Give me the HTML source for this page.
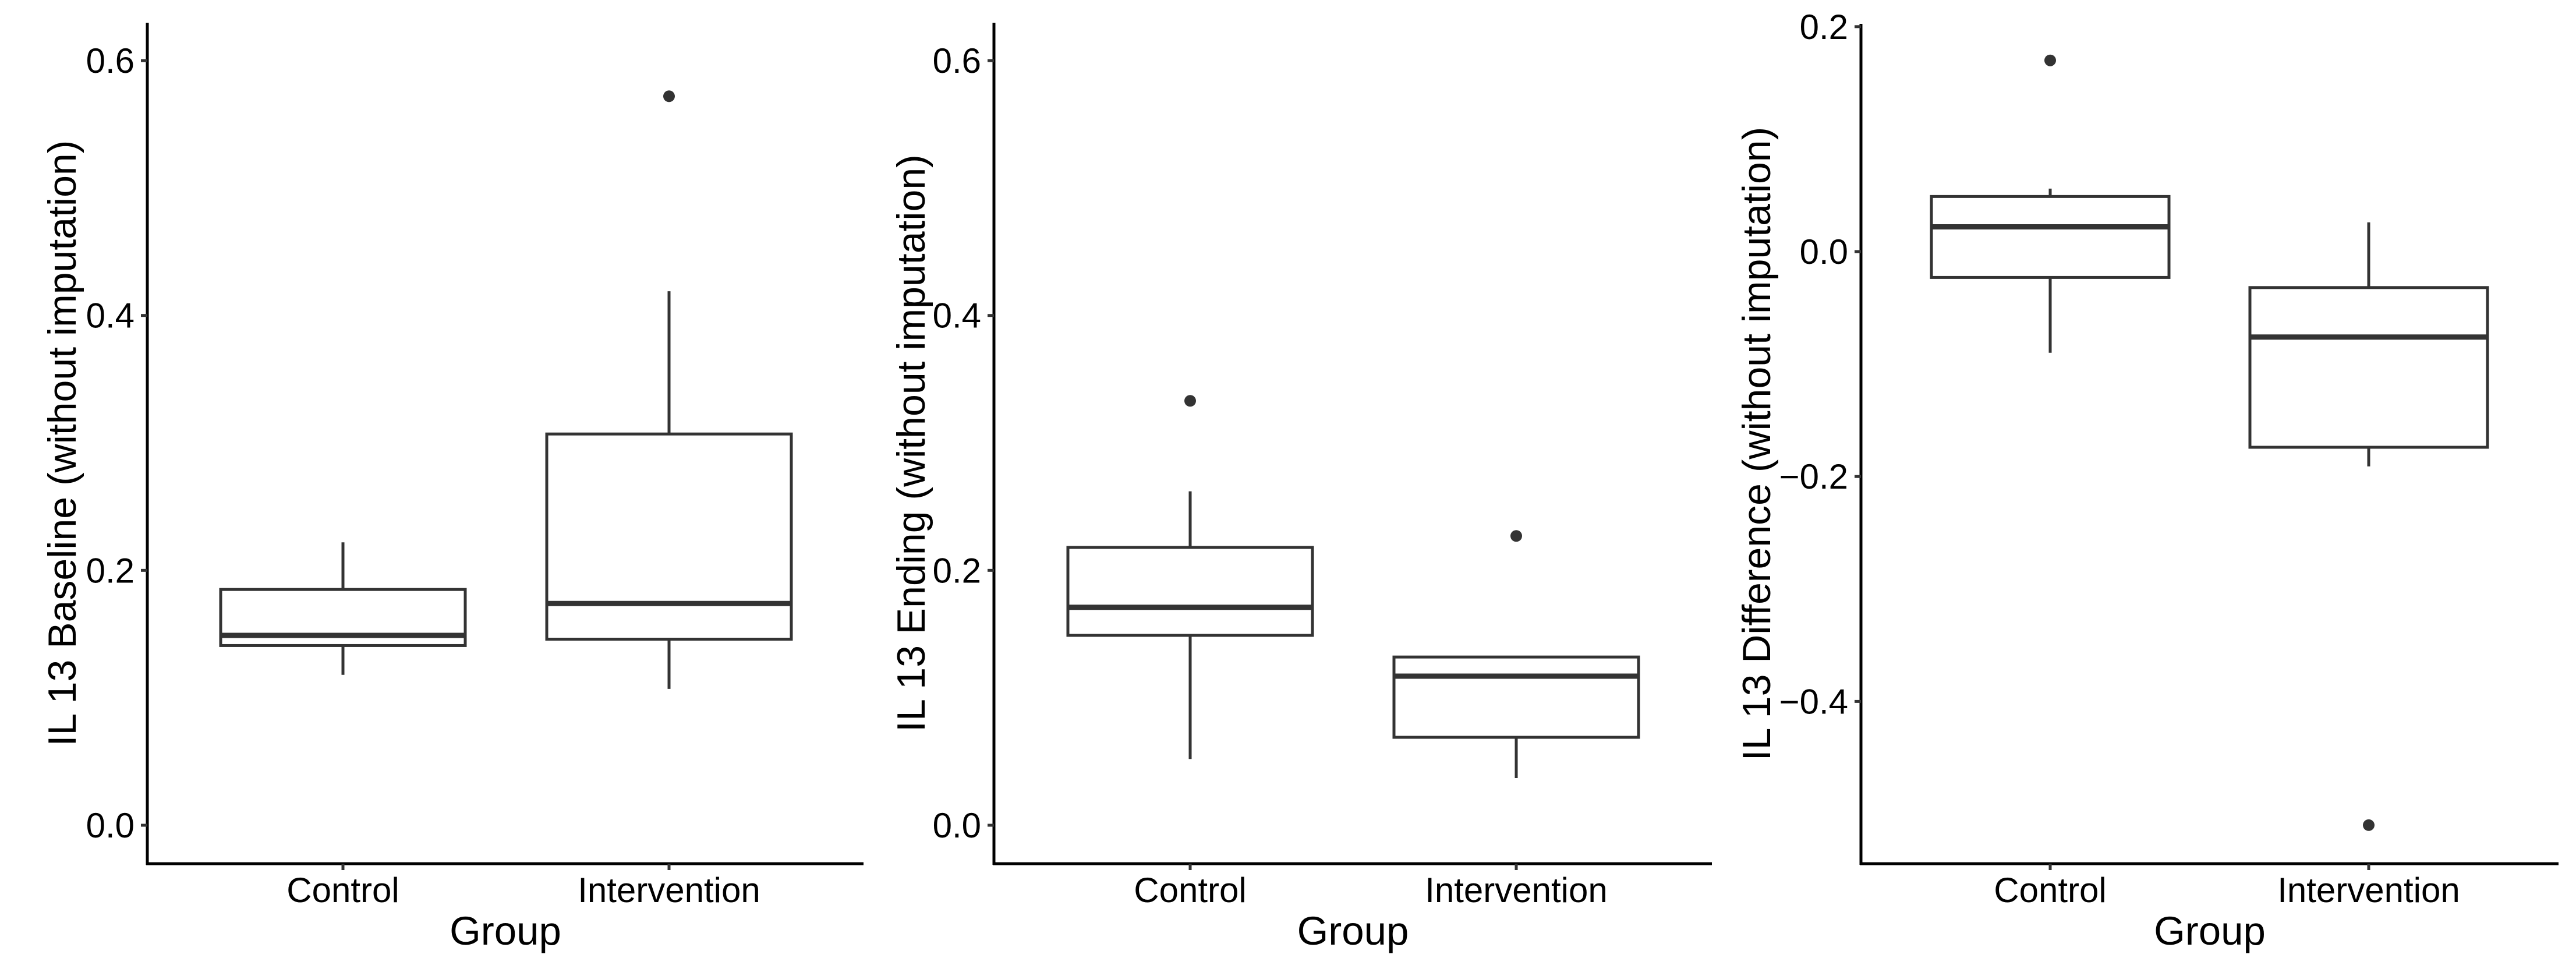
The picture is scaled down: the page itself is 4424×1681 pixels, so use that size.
<!DOCTYPE html>
<html><head><meta charset="utf-8"><style>
html,body{margin:0;padding:0;background:#fff}
svg{display:block;font-family:"Liberation Sans",Arial,sans-serif}
</style></head><body>
<svg id="fig" width="4424" height="1681" viewBox="0 0 4424 1681" xmlns="http://www.w3.org/2000/svg"></svg>
<script>
const categories = ["Control", "Intervention"];
// panel 1: baseline  [low whisker, Q1, median, Q3, high whisker]
const baselineStats = [[0.118, 0.141, 0.149, 0.185, 0.222], [0.107, 0.146, 0.174, 0.307, 0.419]];
const baselineOutliers = [[], [0.572]];
// panel 2: ending
const endingStats = [[0.052, 0.149, 0.171, 0.218, 0.262], [0.037, 0.069, 0.117, 0.132, 0.132]];
const endingOutliers = [[0.333], [0.227]];
// panel 3: difference
const diffStats = [[-0.090, -0.023, 0.022, 0.049, 0.056], [-0.191, -0.174, -0.076, -0.032, 0.026]];
const diffOutliers = [[0.170], [-0.510]];
const ticks12 = [0.0, 0.2, 0.4, 0.6];
const tickLabels12 = ["0.0", "0.2", "0.4", "0.6"];
const ticks3 = [-0.4, -0.2, 0.0, 0.2];
const tickLabels3 = ["\u22120.4", "\u22120.2", "0.0", "0.2"];

const NS = "http://www.w3.org/2000/svg";
const svg = document.getElementById("fig");
function mk(tag, attrs, parent, text) {
  const e = document.createElementNS(NS, tag);
  for (const k in attrs) e.setAttribute(k, attrs[k]);
  if (text !== undefined) e.textContent = text;
  (parent || svg).appendChild(e);
  return e;
}

const panels = [
  {id: "baseline", title: "IL 13 Baseline (without imputation)", stats: baselineStats, outs: baselineOutliers,
   ticks: ticks12, labels: tickLabels12, axX: 253, axR: 1483, top: 39, bottom: 1483, y0: 1417, k: 2188.3,
   cx: [589, 1149], bw: 420, titleX: 106},
  {id: "ending", title: "IL 13 Ending (without imputation)", stats: endingStats, outs: endingOutliers,
   ticks: ticks12, labels: tickLabels12, axX: 1707, axR: 2940, top: 39, bottom: 1483, y0: 1417, k: 2188.3,
   cx: [2044, 2604], bw: 420, titleX: 1564},
  {id: "difference", title: "IL 13 Difference (without imputation)", stats: diffStats, outs: diffOutliers,
   ticks: ticks3, labels: tickLabels3, axX: 3196, axR: 4394, top: 41, bottom: 1483, y0: 432, k: 1931,
   cx: [3521, 4068], bw: 408, titleX: 3016}
];

panels.forEach(p => {
  const g = mk("g", {});
  
  
  const y = v => p.y0 - v * p.k;
  const ya = mk("line", {x1: p.axX, y1: p.top, x2: p.axX, y2: p.bottom + 2, stroke: "#000", "stroke-width": 5}, g);
  
  
  const xa = mk("line", {x1: p.axX - 2, y1: p.bottom, x2: p.axR, y2: p.bottom, stroke: "#000", "stroke-width": 5}, g);
  
  
  p.ticks.forEach((t, i) => {
    const ty = y(t);
    const tl = mk("line", {x1: p.axX - 11, y1: ty, x2: p.axX, y2: ty, stroke: "#333", "stroke-width": 5}, g);
    
    
    const tt = mk("text", {x: p.axX - 22, y: ty + 21, "text-anchor": "end", "font-size": 60, fill: "#000"}, g, p.labels[i]);
    
    
  });
  categories.forEach((c, i) => {
    const tl = mk("line", {x1: p.cx[i], y1: p.bottom, x2: p.cx[i], y2: p.bottom + 11, stroke: "#333", "stroke-width": 5}, g);
    
    
    const tt = mk("text", {x: p.cx[i], y: p.bottom + 66, "text-anchor": "middle", "font-size": 60, fill: "#000"}, g, c);
    
    
  });
  const xt = mk("text", {x: (p.axX + p.axR) / 2, y: 1622, "text-anchor": "middle", "font-size": 69, fill: "#000"}, g, "Group");
  
  
  const ytY = (p.top + p.bottom) / 2;
  const yt = mk("text", {x: p.titleX, y: ytY, "text-anchor": "middle", "font-size": 68, fill: "#000",
    transform: `rotate(-90 ${p.titleX} ${ytY})`, dy: 24}, g, p.title);
  
  
  p.stats.forEach((s, i) => {
    const cx = p.cx[i], hw = p.bw / 2;
    const bg = mk("g", {}, g);
    
    
    mk("line", {x1: cx, y1: y(s[3]), x2: cx, y2: y(s[4]), stroke: "#333", "stroke-width": 5}, bg);
    mk("line", {x1: cx, y1: y(s[1]), x2: cx, y2: y(s[0]), stroke: "#333", "stroke-width": 5}, bg);
    mk("rect", {x: cx - hw, y: y(s[3]), width: p.bw, height: y(s[1]) - y(s[3]), fill: "#fff", stroke: "#333", "stroke-width": 5}, bg);
    mk("line", {x1: cx - hw, y1: y(s[2]), x2: cx + hw, y2: y(s[2]), stroke: "#333", "stroke-width": 9}, bg);
    p.outs[i].forEach(o => {
      const c = mk("circle", {cx: cx, cy: y(o), r: 10, fill: "#333"}, g);
      
      
    });
  });
});
</script>
</body></html>
